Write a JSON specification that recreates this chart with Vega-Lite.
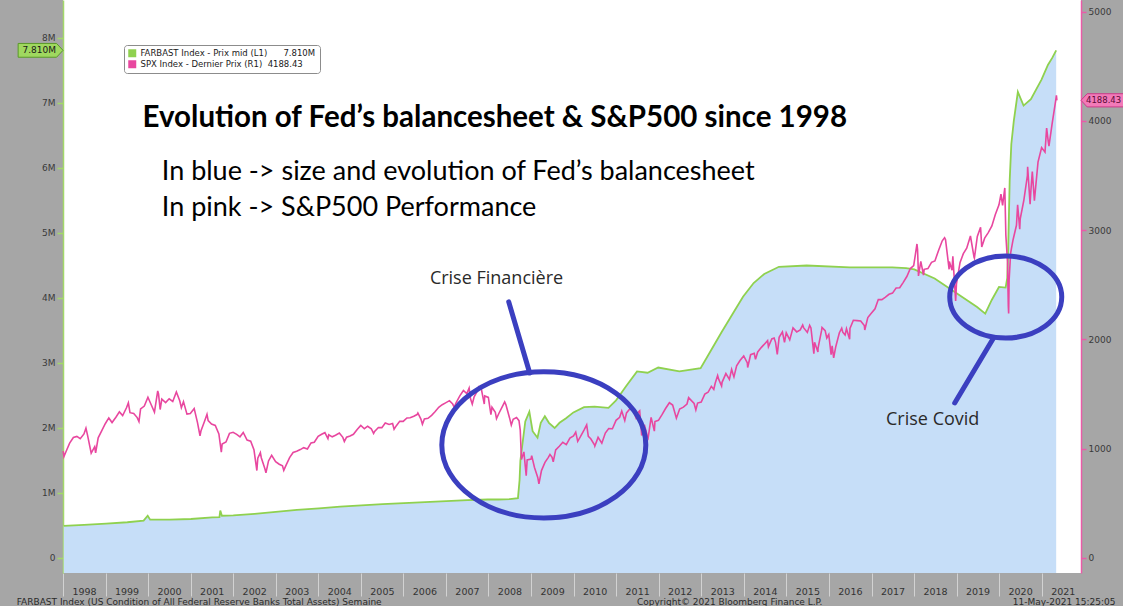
{
 "$schema": "https://vega.github.io/schema/vega-lite/v6.json",
 "width": 1018,
 "height": 573,
 "autosize": {"type": "none"},
 "padding": {"left": 63, "top": 0, "right": 42, "bottom": 33},
 "background": "#a6a6a6",
 "config": {
  "view": {"fill": "#ffffff", "stroke": null},
  "font": "DejaVu Sans"
 },
 "datasets": {
  "fed": [
   {"d":"1998-01-07","v":495000},{"d":"1998-07-01","v":510000},{"d":"1999-01-06","v":530000},{"d":"1999-07-07","v":550000},
   {"d":"1999-11-24","v":575000},{"d":"1999-12-29","v":650000},{"d":"2000-01-19","v":590000},{"d":"2000-07-05","v":590000},
   {"d":"2001-01-03","v":600000},{"d":"2001-07-04","v":625000},{"d":"2001-09-05","v":630000},{"d":"2001-09-12","v":730000},
   {"d":"2001-09-26","v":650000},{"d":"2002-01-02","v":655000},{"d":"2002-07-03","v":680000},{"d":"2003-01-01","v":710000},
   {"d":"2003-07-02","v":740000},{"d":"2004-01-07","v":765000},{"d":"2004-07-07","v":790000},{"d":"2005-01-05","v":810000},
   {"d":"2005-07-06","v":830000},{"d":"2006-01-04","v":845000},{"d":"2006-07-05","v":860000},{"d":"2007-01-03","v":875000},
   {"d":"2007-07-04","v":890000},{"d":"2007-12-26","v":900000},{"d":"2008-03-26","v":900000},{"d":"2008-07-02","v":905000},
   {"d":"2008-09-10","v":920000},{"d":"2008-09-24","v":1200000},{"d":"2008-10-01","v":1500000},{"d":"2008-10-22","v":1800000},
   {"d":"2008-11-12","v":2100000},{"d":"2008-12-17","v":2250000},{"d":"2009-01-14","v":1950000},{"d":"2009-02-25","v":1850000},
   {"d":"2009-03-25","v":2080000},{"d":"2009-04-29","v":2180000},{"d":"2009-06-03","v":2080000},{"d":"2009-07-22","v":2000000},
   {"d":"2009-09-02","v":2080000},{"d":"2009-10-28","v":2150000},{"d":"2009-12-30","v":2240000},{"d":"2010-03-31","v":2320000},
   {"d":"2010-06-30","v":2330000},{"d":"2010-10-27","v":2310000},{"d":"2010-12-29","v":2420000},{"d":"2011-03-30","v":2650000},
   {"d":"2011-06-29","v":2870000},{"d":"2011-09-28","v":2850000},{"d":"2011-12-28","v":2930000},{"d":"2012-06-27","v":2870000},
   {"d":"2012-12-26","v":2920000},{"d":"2013-03-27","v":3200000},{"d":"2013-06-26","v":3480000},{"d":"2013-09-25","v":3750000},
   {"d":"2013-12-25","v":4020000},{"d":"2014-03-26","v":4230000},{"d":"2014-06-25","v":4370000},{"d":"2014-10-29","v":4480000},
   {"d":"2015-06-24","v":4500000},{"d":"2016-06-29","v":4470000},{"d":"2017-06-28","v":4470000},{"d":"2017-10-25","v":4460000},
   {"d":"2018-01-03","v":4440000},{"d":"2018-06-27","v":4300000},{"d":"2018-12-26","v":4080000},{"d":"2019-06-26","v":3860000},
   {"d":"2019-09-04","v":3760000},{"d":"2019-10-30","v":3970000},{"d":"2019-12-31","v":4170000},{"d":"2020-02-26","v":4160000},
   {"d":"2020-03-11","v":4310000},{"d":"2020-03-18","v":4670000},{"d":"2020-03-25","v":5250000},{"d":"2020-04-01","v":5810000},
   {"d":"2020-04-15","v":6370000},{"d":"2020-05-06","v":6720000},{"d":"2020-06-10","v":7170000},{"d":"2020-07-29","v":6960000},
   {"d":"2020-09-30","v":7060000},{"d":"2020-12-30","v":7360000},{"d":"2021-02-24","v":7590000},{"d":"2021-03-31","v":7690000},
   {"d":"2021-05-05","v":7810000}
  ],
  "spx": [
   {"d":"1998-01-02","v":975},{"d":"1998-01-09","v":927},{"d":"1998-01-30","v":980},{"d":"1998-02-27","v":1049},{"d":"1998-03-31","v":1101},{"d":"1998-04-30","v":1111},{"d":"1998-05-29","v":1090},{"d":"1998-06-30","v":1133},{"d":"1998-07-17","v":1186},{"d":"1998-07-31","v":1120},{"d":"1998-08-31","v":957},{"d":"1998-09-30","v":1017},{"d":"1998-10-08","v":959},{"d":"1998-10-30","v":1098},{"d":"1998-11-30","v":1163},{"d":"1998-12-31","v":1229},
   {"d":"1999-01-29","v":1280},{"d":"1999-02-26","v":1238},{"d":"1999-03-31","v":1286},{"d":"1999-04-30","v":1335},{"d":"1999-05-28","v":1301},{"d":"1999-06-30","v":1373},{"d":"1999-07-16","v":1418},{"d":"1999-07-30","v":1328},{"d":"1999-08-31","v":1320},{"d":"1999-09-30","v":1283},{"d":"1999-10-15","v":1247},{"d":"1999-10-29","v":1363},{"d":"1999-11-30","v":1389},{"d":"1999-12-31","v":1469},
   {"d":"2000-01-31","v":1394},{"d":"2000-02-25","v":1333},{"d":"2000-03-24","v":1527},{"d":"2000-03-31","v":1499},{"d":"2000-04-14","v":1357},{"d":"2000-04-28","v":1452},{"d":"2000-05-31","v":1421},{"d":"2000-06-30","v":1455},{"d":"2000-07-31","v":1431},{"d":"2000-08-31","v":1518},{"d":"2000-09-29","v":1437},{"d":"2000-10-13","v":1374},{"d":"2000-10-31","v":1429},{"d":"2000-11-30","v":1315},{"d":"2000-12-29","v":1320},
   {"d":"2001-01-31","v":1366},{"d":"2001-02-28","v":1240},{"d":"2001-03-22","v":1117},{"d":"2001-03-30","v":1160},{"d":"2001-04-30","v":1249},{"d":"2001-05-21","v":1313},{"d":"2001-05-31","v":1256},{"d":"2001-06-29","v":1224},{"d":"2001-07-31","v":1211},{"d":"2001-08-31","v":1134},{"d":"2001-09-21","v":966},{"d":"2001-09-28","v":1041},{"d":"2001-10-31","v":1060},{"d":"2001-11-30","v":1139},{"d":"2001-12-31","v":1148},
   {"d":"2002-01-31","v":1130},{"d":"2002-02-28","v":1107},{"d":"2002-03-28","v":1147},{"d":"2002-04-30","v":1077},{"d":"2002-05-31","v":1067},{"d":"2002-06-28","v":990},{"d":"2002-07-23","v":798},{"d":"2002-07-31","v":912},{"d":"2002-08-22","v":962},{"d":"2002-08-30","v":916},{"d":"2002-09-30","v":815},{"d":"2002-10-09","v":777},{"d":"2002-10-31","v":886},{"d":"2002-11-27","v":938},{"d":"2002-12-31","v":880},
   {"d":"2003-01-31","v":856},{"d":"2003-02-28","v":841},{"d":"2003-03-11","v":800},{"d":"2003-03-31","v":848},{"d":"2003-04-30","v":917},{"d":"2003-05-30","v":964},{"d":"2003-06-30","v":975},{"d":"2003-07-31","v":990},{"d":"2003-08-29","v":1008},{"d":"2003-09-30","v":996},{"d":"2003-10-31","v":1051},{"d":"2003-11-28","v":1058},{"d":"2003-12-31","v":1112},
   {"d":"2004-01-30","v":1131},{"d":"2004-02-27","v":1145},{"d":"2004-03-24","v":1091},{"d":"2004-03-31","v":1126},{"d":"2004-04-30","v":1107},{"d":"2004-05-28","v":1121},{"d":"2004-06-30","v":1141},{"d":"2004-07-30","v":1102},{"d":"2004-08-12","v":1064},{"d":"2004-08-31","v":1104},{"d":"2004-09-30","v":1115},{"d":"2004-10-29","v":1130},{"d":"2004-11-30","v":1174},{"d":"2004-12-31","v":1212},
   {"d":"2005-01-31","v":1181},{"d":"2005-02-28","v":1204},{"d":"2005-03-31","v":1181},{"d":"2005-04-20","v":1138},{"d":"2005-04-29","v":1157},{"d":"2005-05-31","v":1192},{"d":"2005-06-30","v":1191},{"d":"2005-07-29","v":1234},{"d":"2005-08-31","v":1220},{"d":"2005-09-30","v":1229},{"d":"2005-10-13","v":1177},{"d":"2005-10-31","v":1207},{"d":"2005-11-30","v":1249},{"d":"2005-12-30","v":1248},
   {"d":"2006-01-31","v":1280},{"d":"2006-02-28","v":1281},{"d":"2006-03-31","v":1295},{"d":"2006-04-28","v":1311},{"d":"2006-05-05","v":1325},{"d":"2006-05-31","v":1270},{"d":"2006-06-13","v":1223},{"d":"2006-06-30","v":1270},{"d":"2006-07-31","v":1277},{"d":"2006-08-31","v":1304},{"d":"2006-09-29","v":1336},{"d":"2006-10-31","v":1378},{"d":"2006-11-30","v":1401},{"d":"2006-12-29","v":1418},
   {"d":"2007-01-31","v":1438},{"d":"2007-02-28","v":1407},{"d":"2007-03-13","v":1377},{"d":"2007-03-30","v":1421},{"d":"2007-04-30","v":1482},{"d":"2007-05-31","v":1531},{"d":"2007-06-29","v":1503},{"d":"2007-07-19","v":1553},{"d":"2007-07-31","v":1455},{"d":"2007-08-15","v":1407},{"d":"2007-08-31","v":1474},{"d":"2007-09-28","v":1527},{"d":"2007-10-09","v":1565},{"d":"2007-10-31","v":1549},{"d":"2007-11-26","v":1407},{"d":"2007-11-30","v":1481},{"d":"2007-12-31","v":1468},
   {"d":"2008-01-22","v":1310},{"d":"2008-01-31","v":1378},{"d":"2008-02-29","v":1331},{"d":"2008-03-10","v":1273},{"d":"2008-03-31","v":1323},{"d":"2008-04-30","v":1386},{"d":"2008-05-19","v":1427},{"d":"2008-05-30","v":1400},{"d":"2008-06-30","v":1280},{"d":"2008-07-15","v":1215},{"d":"2008-07-31","v":1267},{"d":"2008-08-29","v":1283},{"d":"2008-09-19","v":1255},{"d":"2008-09-30","v":1166},{"d":"2008-10-10","v":899},{"d":"2008-10-31","v":969},{"d":"2008-11-20","v":752},{"d":"2008-11-28","v":896},{"d":"2008-12-31","v":903},
   {"d":"2009-01-06","v":935},{"d":"2009-01-30","v":826},{"d":"2009-02-27","v":735},{"d":"2009-03-09","v":677},{"d":"2009-03-31","v":798},{"d":"2009-04-30","v":873},{"d":"2009-05-29","v":919},{"d":"2009-06-12","v":946},{"d":"2009-06-30","v":919},{"d":"2009-07-10","v":879},{"d":"2009-07-31","v":987},{"d":"2009-08-31","v":1021},{"d":"2009-09-30","v":1057},{"d":"2009-10-30","v":1036},{"d":"2009-11-30","v":1096},{"d":"2009-12-31","v":1115},
   {"d":"2010-01-19","v":1150},{"d":"2010-02-05","v":1066},{"d":"2010-02-26","v":1104},{"d":"2010-03-31","v":1169},{"d":"2010-04-23","v":1217},{"d":"2010-05-07","v":1111},{"d":"2010-05-28","v":1089},{"d":"2010-06-30","v":1031},{"d":"2010-07-02","v":1022},{"d":"2010-07-30","v":1102},{"d":"2010-08-31","v":1049},{"d":"2010-09-30","v":1141},{"d":"2010-10-29","v":1183},{"d":"2010-11-30","v":1181},{"d":"2010-12-31","v":1258},
   {"d":"2011-01-31","v":1286},{"d":"2011-02-18","v":1343},{"d":"2011-03-16","v":1257},{"d":"2011-03-31","v":1326},{"d":"2011-04-29","v":1364},{"d":"2011-05-31","v":1345},{"d":"2011-06-24","v":1268},{"d":"2011-06-30","v":1321},{"d":"2011-07-22","v":1345},{"d":"2011-08-08","v":1119},{"d":"2011-08-31","v":1219},{"d":"2011-09-22","v":1129},{"d":"2011-10-03","v":1099},{"d":"2011-10-28","v":1285},{"d":"2011-11-25","v":1159},{"d":"2011-11-30","v":1247},{"d":"2011-12-30","v":1258},
   {"d":"2012-01-31","v":1312},{"d":"2012-02-29","v":1366},{"d":"2012-04-02","v":1419},{"d":"2012-04-30","v":1398},{"d":"2012-06-01","v":1278},{"d":"2012-06-29","v":1362},{"d":"2012-07-31","v":1379},{"d":"2012-08-31","v":1407},{"d":"2012-09-14","v":1465},{"d":"2012-10-31","v":1412},{"d":"2012-11-15","v":1353},{"d":"2012-11-30","v":1416},{"d":"2012-12-31","v":1426},
   {"d":"2013-01-31","v":1498},{"d":"2013-02-28","v":1515},{"d":"2013-03-28","v":1569},{"d":"2013-04-18","v":1541},{"d":"2013-04-30","v":1598},{"d":"2013-05-21","v":1669},{"d":"2013-05-31","v":1631},{"d":"2013-06-24","v":1573},{"d":"2013-06-28","v":1606},{"d":"2013-07-31","v":1686},{"d":"2013-08-30","v":1633},{"d":"2013-09-18","v":1725},{"d":"2013-09-30","v":1682},{"d":"2013-10-08","v":1656},{"d":"2013-10-31","v":1757},{"d":"2013-11-29","v":1806},{"d":"2013-12-31","v":1848},
   {"d":"2014-01-31","v":1783},{"d":"2014-02-03","v":1742},{"d":"2014-02-28","v":1859},{"d":"2014-03-31","v":1872},{"d":"2014-04-11","v":1816},{"d":"2014-04-30","v":1884},{"d":"2014-05-30","v":1924},{"d":"2014-06-30","v":1960},{"d":"2014-07-24","v":1988},{"d":"2014-07-31","v":1931},{"d":"2014-08-29","v":2003},{"d":"2014-09-18","v":2011},{"d":"2014-09-30","v":1972},{"d":"2014-10-15","v":1862},{"d":"2014-10-31","v":2018},{"d":"2014-11-28","v":2068},{"d":"2014-12-16","v":1973},{"d":"2014-12-31","v":2059},
   {"d":"2015-01-30","v":1995},{"d":"2015-02-27","v":2105},{"d":"2015-03-31","v":2068},{"d":"2015-04-30","v":2086},{"d":"2015-05-21","v":2131},{"d":"2015-05-29","v":2107},{"d":"2015-06-30","v":2063},{"d":"2015-07-20","v":2128},{"d":"2015-07-31","v":2104},{"d":"2015-08-25","v":1868},{"d":"2015-08-31","v":1972},{"d":"2015-09-29","v":1884},{"d":"2015-09-30","v":1920},{"d":"2015-10-30","v":2079},{"d":"2015-11-03","v":2109},{"d":"2015-11-30","v":2080},{"d":"2015-12-14","v":2012},{"d":"2015-12-31","v":2044},
   {"d":"2016-01-20","v":1859},{"d":"2016-01-29","v":1940},{"d":"2016-02-11","v":1829},{"d":"2016-02-29","v":1932},{"d":"2016-03-31","v":2060},{"d":"2016-04-20","v":2102},{"d":"2016-04-29","v":2065},{"d":"2016-05-19","v":2040},{"d":"2016-05-31","v":2097},{"d":"2016-06-27","v":2001},{"d":"2016-06-30","v":2099},{"d":"2016-07-29","v":2174},{"d":"2016-08-31","v":2171},{"d":"2016-09-30","v":2168},{"d":"2016-10-31","v":2126},{"d":"2016-11-04","v":2085},{"d":"2016-11-30","v":2199},{"d":"2016-12-30","v":2239},
   {"d":"2017-01-31","v":2279},{"d":"2017-02-28","v":2364},{"d":"2017-03-31","v":2363},{"d":"2017-04-28","v":2384},{"d":"2017-05-31","v":2412},{"d":"2017-06-30","v":2423},{"d":"2017-07-31","v":2470},{"d":"2017-08-31","v":2472},{"d":"2017-09-29","v":2519},{"d":"2017-10-31","v":2575},{"d":"2017-11-30","v":2648},{"d":"2017-12-29","v":2674},
   {"d":"2018-01-26","v":2873},{"d":"2018-01-31","v":2824},{"d":"2018-02-08","v":2581},{"d":"2018-02-28","v":2714},{"d":"2018-03-23","v":2588},{"d":"2018-03-29","v":2641},{"d":"2018-04-30","v":2648},{"d":"2018-05-31","v":2705},{"d":"2018-06-29","v":2718},{"d":"2018-07-31","v":2816},{"d":"2018-08-31","v":2902},{"d":"2018-09-20","v":2930},{"d":"2018-09-28","v":2914},{"d":"2018-10-29","v":2641},{"d":"2018-10-31","v":2712},{"d":"2018-11-23","v":2633},{"d":"2018-11-30","v":2760},{"d":"2018-12-24","v":2351},{"d":"2018-12-31","v":2507},
   {"d":"2019-01-31","v":2704},{"d":"2019-02-28","v":2784},{"d":"2019-03-29","v":2834},{"d":"2019-04-30","v":2946},{"d":"2019-05-31","v":2752},{"d":"2019-06-03","v":2744},{"d":"2019-06-28","v":2942},{"d":"2019-07-26","v":3026},{"d":"2019-08-05","v":2845},{"d":"2019-08-30","v":2926},{"d":"2019-09-30","v":2977},{"d":"2019-10-31","v":3038},{"d":"2019-11-29","v":3141},{"d":"2019-12-31","v":3231},
   {"d":"2020-01-17","v":3330},{"d":"2020-01-31","v":3226},{"d":"2020-02-19","v":3386},{"d":"2020-02-28","v":2954},{"d":"2020-03-13","v":2711},{"d":"2020-03-20","v":2305},{"d":"2020-03-23","v":2237},{"d":"2020-03-27","v":2541},{"d":"2020-04-09","v":2790},{"d":"2020-04-30","v":2912},{"d":"2020-05-29","v":3044},{"d":"2020-06-08","v":3232},{"d":"2020-06-26","v":3009},{"d":"2020-06-30","v":3100},{"d":"2020-07-31","v":3271},{"d":"2020-08-31","v":3500},{"d":"2020-09-02","v":3580},{"d":"2020-09-23","v":3237},{"d":"2020-09-30","v":3363},{"d":"2020-10-12","v":3535},{"d":"2020-10-30","v":3270},{"d":"2020-11-30","v":3622},{"d":"2020-12-31","v":3756},
   {"d":"2021-01-29","v":3714},{"d":"2021-02-12","v":3934},{"d":"2021-02-26","v":3811},{"d":"2021-03-04","v":3768},{"d":"2021-03-31","v":3973},{"d":"2021-04-30","v":4181},{"d":"2021-05-07","v":4233},{"d":"2021-05-11","v":4188}
  ]
 },
 "encoding": {
  "x": {
   "field": "d", "type": "temporal", "title": null,
   "scale": {"type": "utc", "nice": false, "domain": [{"year": 1998, "month": 1, "date": 1, "utc": true}, {"year": 2021, "month": 12, "date": 4, "utc": true}]},
   "axis": {
    "values": [
     {"year":1998,"month":1,"date":1,"utc":true},{"year":1999,"month":1,"date":1,"utc":true},{"year":2000,"month":1,"date":1,"utc":true},{"year":2001,"month":1,"date":1,"utc":true},
     {"year":2002,"month":1,"date":1,"utc":true},{"year":2003,"month":1,"date":1,"utc":true},{"year":2004,"month":1,"date":1,"utc":true},{"year":2005,"month":1,"date":1,"utc":true},
     {"year":2006,"month":1,"date":1,"utc":true},{"year":2007,"month":1,"date":1,"utc":true},{"year":2008,"month":1,"date":1,"utc":true},{"year":2009,"month":1,"date":1,"utc":true},
     {"year":2010,"month":1,"date":1,"utc":true},{"year":2011,"month":1,"date":1,"utc":true},{"year":2012,"month":1,"date":1,"utc":true},{"year":2013,"month":1,"date":1,"utc":true},
     {"year":2014,"month":1,"date":1,"utc":true},{"year":2015,"month":1,"date":1,"utc":true},{"year":2016,"month":1,"date":1,"utc":true},{"year":2017,"month":1,"date":1,"utc":true},
     {"year":2018,"month":1,"date":1,"utc":true},{"year":2019,"month":1,"date":1,"utc":true},{"year":2020,"month":1,"date":1,"utc":true},{"year":2021,"month":1,"date":1,"utc":true}
    ],
    "format": "%Y", "formatType": "utc",
    "domain": false, "grid": false,
    "tickColor": "#d2d2d2", "tickSize": 23, "tickWidth": 1,
    "labelOffset": 21, "labelPadding": -5, "labelBaseline": "middle", "labelAlign": "center",
    "labelFlush": false, "labelOverlap": false, "labelBound": false,
    "labelColor": "#333333", "labelFont": "DejaVu Sans", "labelFontSize": 9.5
   }
  }
 },
 "layer": [
  {
   "data": {"name": "fed"},
   "encoding": {
    "y": {"field": "v", "type": "quantitative", "title": null,
     "scale": {"domain": [-230800, 8584600], "nice": false, "zero": false},
     "axis": {"orient": "left", "values": [0,1000000,2000000,3000000,4000000,5000000,6000000,7000000,8000000],
      "labelExpr": "datum.value == 0 ? '0' : format(datum.value / 1000000, 'd') + 'M'",
      "grid": false, "domainColor": "#a3d86a", "domainWidth": 1.5, "tickColor": "#a3d86a", "tickWidth": 1.5, "tickSize": 6,
      "labelPadding": 2, "labelColor": "#3a3a3a", "labelFont": "DejaVu Sans", "labelFontSize": 9}
    }
   },
   "layer": [
    {"mark": {"type": "area", "color": "#c6def8", "interpolate": "linear"}, "encoding": {"y2": {"datum": -230800}}},
    {"mark": {"type": "line", "strokeWidth": 1.8, "interpolate": "linear"},
     "encoding": {"color": {"datum": "FARBAST Index - Prix mid (L1)", "type": "nominal",
      "scale": {"domain": ["FARBAST Index - Prix mid (L1)", "SPX Index - Dernier Prix (R1)"], "range": ["#8fd14f", "#e8479f"]},
      "legend": {"title": null, "orient": "none", "legendX": 61, "legendY": 45, "fillColor": "#ffffff", "strokeColor": "#8c8c8c", "cornerRadius": 3, "padding": 4,
       "symbolType": "square", "symbolSize": 64, "symbolStrokeWidth": 0, "labelFont": "DejaVu Sans", "labelFontSize": 8.5, "labelLimit": 500, "labelColor": "#1a1a1a", "rowPadding": 2, "labelOffset": 4,
       "labelExpr": "datum.label + (datum.label[0] == 'F' ? '\u00a0\u00a0\u00a0\u00a0\u00a0\u00a07.810M' : '\u00a0\u00a04188.43')",
       "encode": {"symbols": {"update": {"fill": {"scale": "color", "field": "value"}, "fillOpacity": {"value": 1}}}}}}}}
   ]
  },
  {
   "data": {"name": "spx"},
   "encoding": {
    "y": {"field": "v", "type": "quantitative", "title": null,
     "scale": {"domain": [-140, 5107], "nice": false, "zero": false},
     "axis": {"orient": "right", "values": [0,1000,2000,3000,4000,5000], "format": "d",
      "grid": false, "domainColor": "#ea5ba8", "domainWidth": 1.5, "tickColor": "#ea5ba8", "tickWidth": 1.5, "tickSize": 5,
      "labelPadding": 2, "labelColor": "#3a3a3a", "labelFont": "DejaVu Sans", "labelFontSize": 9}
    }
   },
   "layer": [
    {"mark": {"type": "line", "strokeWidth": 1.6, "interpolate": "linear"},
     "encoding": {"color": {"datum": "SPX Index - Dernier Prix (R1)", "type": "nominal"}}},
    {"data": {"values": [{"d": "2021-12-04", "v": 4188.43}]},
     "mark": {"type": "point", "shape": "M 0 0 L 0.28 -0.3 L 2.3 -0.3 L 2.3 0.3 L 0.28 0.3 Z", "size": 1936, "filled": true, "fill": "#f27ab8", "stroke": "#c83c88", "strokeWidth": 1, "opacity": 1}},
    {"data": {"values": [{"d": "2021-12-04", "v": 4188.43, "t": "4188.43"}]},
     "mark": {"type": "text", "align": "left", "baseline": "middle", "dx": 5, "font": "DejaVu Sans", "fontSize": 8.5, "color": "#5a0a36"},
     "encoding": {"text": {"field": "t"}}}
   ]
  },
  {
   "encoding": {
    "y": {"field": "v", "type": "quantitative", "title": null,
     "scale": {"domain": [-230800, 8584600], "nice": false, "zero": false}, "axis": null}
   },
   "layer": [
    {"data": {"values": [{"d": "2009-04-20", "v": 1740000}]},
     "mark": {"type": "point", "shape": "M -1 0 A 1 0.716 0 1 1 1 0 A 1 0.716 0 1 1 -1 0 Z", "size": 41616, "filled": false, "stroke": "#3b3fc0", "strokeWidth": 5, "opacity": 1}},
    {"data": {"values": [{"d": "2020-02-27", "v": 4015000}]},
     "mark": {"type": "point", "shape": "M -1 0 A 1 0.732 0 1 1 1 0 A 1 0.732 0 1 1 -1 0 Z", "size": 12544, "filled": false, "stroke": "#3b3fc0", "strokeWidth": 5, "opacity": 1}},
    {"data": {"values": [{"d": "2008-06-23", "v": 3940000, "d2": "2008-12-20", "v2": 2846000}, {"d": "2019-11-14", "v": 3385000, "d2": "2018-12-16", "v2": 2385000}]},
     "mark": {"type": "rule", "color": "#3b3fc0", "strokeWidth": 5, "strokeCap": "round"},
     "encoding": {"x2": {"field": "d2"}, "y2": {"field": "v2"}}},
    {"data": {"values": [{"d": "2008-03-10", "v": 4290000, "t": "Crise Financière"}, {"d": "2018-06-10", "v": 2123000, "t": "Crise Covid"}]},
     "mark": {"type": "text", "align": "center", "baseline": "middle", "font": "Open Sans", "fontSize": 18, "color": "#2a2a2a"},
     "encoding": {"text": {"field": "t"}}},
    {"data": {"values": [{"d": "1999-11-15", "v": 6770000, "t": "Evolution of Fed’s balancesheet & S&P500 since 1998"}]},
     "mark": {"type": "text", "align": "left", "baseline": "middle", "font": "Lato", "fontWeight": "bold", "fontSize": 29.5, "color": "#000000"},
     "encoding": {"text": {"field": "t"}}},
    {"data": {"values": [{"d": "2000-04-28", "v": 5938000, "t": "In blue -> size and evolution of Fed’s balancesheet"}, {"d": "2000-04-28", "v": 5385000, "t": "In pink -> S&P500 Performance"}]},
     "mark": {"type": "text", "align": "left", "baseline": "middle", "font": "Lato", "fontSize": 27, "color": "#000000"},
     "encoding": {"text": {"field": "t"}}},
    {"data": {"values": [{"d": "1998-01-01", "v": 7810000}]},
     "mark": {"type": "point", "shape": "M 0 0 L -0.28 -0.3 L -1.95 -0.3 L -1.95 0.3 L -0.28 0.3 Z", "size": 2116, "filled": true, "fill": "#9fd85f", "stroke": "#5a9a28", "strokeWidth": 1, "opacity": 1}},
    {"data": {"values": [{"d": "1998-01-01", "v": 7810000, "t": "7.810M"}]},
     "mark": {"type": "text", "align": "right", "baseline": "middle", "dx": -7, "font": "DejaVu Sans", "fontSize": 9, "color": "#1a1a1a"},
     "encoding": {"text": {"field": "t"}}},
    {"data": {"values": [{"d": "1996-11-30", "v": -677000, "t": "FARBAST Index (US Condition of All Federal Reserve Banks Total Assets)  Semaine"}, {"d": "2020-04-28", "v": -677000, "t": "11-May-2021 15:25:05"}]},
     "mark": {"type": "text", "align": "left", "baseline": "middle", "font": "DejaVu Sans", "fontSize": 9, "color": "#2a2a2a"},
     "encoding": {"text": {"field": "t"}}},
    {"data": {"values": [{"d": "2013-09-02", "v": -677000, "t": "Copyright© 2021 Bloomberg Finance L.P."}]},
     "mark": {"type": "text", "align": "center", "baseline": "middle", "font": "DejaVu Sans", "fontSize": 9, "color": "#2a2a2a"},
     "encoding": {"text": {"field": "t"}}}
   ]
  }
 ],
 "resolve": {"scale": {"y": "independent"}}
}
